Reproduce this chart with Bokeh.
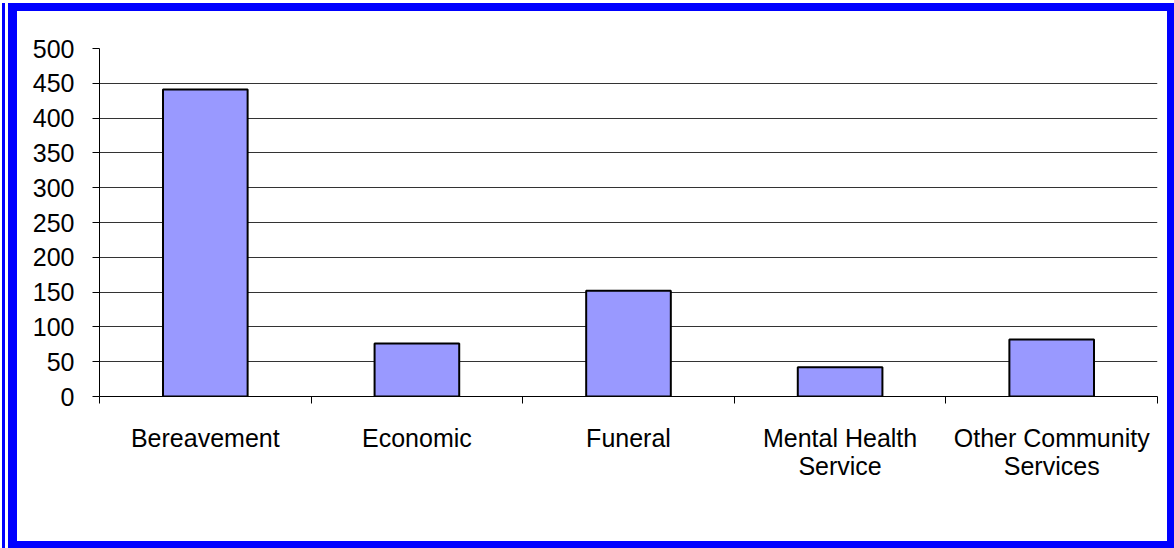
from bokeh.plotting import figure
from bokeh.models import ColumnDataSource, Range1d, FixedTicker
from bokeh.embed import file_html
from bokeh.resources import INLINE

# ---- data ----
categories = ["Bereavement", "Economic", "Funeral",
              "Mental Health\nService", "Other Community\nServices"]
counts = [441, 76, 152, 42, 82]
y_ticks = [0, 50, 100, 150, 200, 250, 300, 350, 400, 450, 500]

FONT = "Liberation Sans"
BLUE = "#0000FF"

xs = list(range(1, len(categories) + 1))
src = ColumnDataSource(dict(x=xs, top=counts))

# white inner panel sits at (17, 11) inside the 1174x548 window
p = figure(width=1150, height=530, output_backend="svg", toolbar_location=None,
           x_range=Range1d(0.5, len(categories) + 0.5),
           y_range=Range1d(y_ticks[0], y_ticks[-1]))
p.margin = (11, 0, 0, 17)
p.styles = {
    "box-shadow": (f"-1px 0 0 8px {BLUE}, "
                   f"-4px 0 0 8px #FFFFFF, "
                   f"-7px 0 0 8px {BLUE}")
}
p.min_border_left = 82
p.min_border_right = 10
p.min_border_top = 37
p.min_border_bottom = 145
p.outline_line_color = None
p.background_fill_color = "white"
p.border_fill_color = "white"

p.vbar(x="x", top="top", bottom=0, width=0.4, source=src,
       fill_color="#9999FF", line_color="black", line_width=2)

# y axis
p.yaxis.ticker = FixedTicker(ticks=y_ticks)
p.yaxis.axis_line_color = "black"
p.yaxis.major_tick_out = 7
p.yaxis.major_tick_in = 0
p.yaxis.minor_tick_line_color = None
p.yaxis.major_label_text_font = FONT
p.yaxis.major_label_text_font_size = "25px"
p.yaxis.major_label_text_color = "black"
p.yaxis.major_label_standoff = 18

# grid (no line at the top value)
p.xgrid.grid_line_color = None
p.ygrid.ticker = FixedTicker(ticks=y_ticks[1:-1])
p.ygrid.grid_line_color = "#333333"
p.ygrid.grid_line_width = 1

# x axis: labels at category centres, ticks at category boundaries
bounds = [x - 0.5 for x in xs] + [xs[-1] + 0.5]
p.xaxis.ticker = FixedTicker(ticks=xs, minor_ticks=bounds)
p.xaxis.major_label_overrides = {x: c for x, c in zip(xs, categories)}
p.xaxis.axis_line_color = "black"
p.xaxis.major_tick_out = 0
p.xaxis.major_tick_in = 0
p.xaxis.minor_tick_out = 7
p.xaxis.minor_tick_in = 0
p.xaxis.minor_tick_line_color = "black"
p.xaxis.major_label_text_font = FONT
p.xaxis.major_label_text_font_size = "25px"
p.xaxis.major_label_text_color = "black"
p.xaxis.major_label_text_line_height = 1.0
p.xaxis.major_label_standoff = 20

open("out.html", "w").write(file_html(p, INLINE))
